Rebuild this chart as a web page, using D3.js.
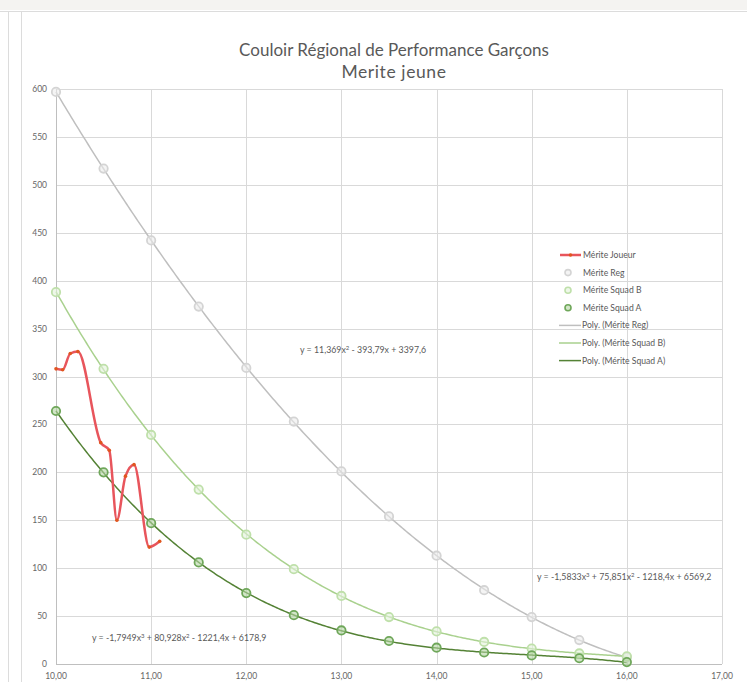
<!DOCTYPE html>
<html><head><meta charset="utf-8">
<script src="https://cdn.jsdelivr.net/npm/d3@7"></script>
<style>
html,body{margin:0;padding:0;background:#fff;}
svg{display:block;font-family:Lato,"Open Sans",sans-serif;}
</style></head>
<body><svg id="c" width="747" height="682"></svg>
<script>
// ---- data ----
const titleLines = ["Couloir Régional de Performance Garçons", "Merite jeune"];
const ageX = [10, 10.5, 11, 11.5, 12, 12.5, 13, 13.5, 14, 14.5, 15, 15.5, 16];
const meriteReg = [597, 517, 442, 373, 309, 253, 201, 154, 113, 77, 49, 25, 7];
const meriteSquadB = [388, 308, 239, 182, 135, 99, 71, 49, 34, 23, 16, 11, 8];
const meriteSquadA = [264, 200, 147, 106, 74, 51, 35, 24, 17, 12, 9, 6, 2];
const joueurX = [10.00, 10.07, 10.15, 10.23, 10.47, 10.56, 10.64, 10.73, 10.82, 10.98, 11.09];
const joueurY = [308, 307, 324, 326, 231, 223, 150, 196, 208, 122, 128];
const xTicks = [10, 11, 12, 13, 14, 15, 16, 17];
const yTicks = [0, 50, 100, 150, 200, 250, 300, 350, 400, 450, 500, 550, 600];
const legendLabels = ["Mérite Joueur", "Mérite Reg", "Mérite Squad B", "Mérite Squad A",
  "Poly. (Mérite Reg)", "Poly. (Mérite Squad B)", "Poly. (Mérite Squad A)"];
const eqReg = ["y = 11,369x", "2", " - 393,79x + 3397,6"];
const eqB = ["y = -1,5833x", "3", " + 75,851x", "2", " - 1218,4x + 6569,2"];
const eqA = ["y = -1,7949x", "3", " + 80,928x", "2", " - 1221,4x + 6178,9"];

// ---- polynomial least-squares fit (like Excel trendline) ----
function polyfit(xs, ys, deg) {
  const c = 13;
  const n = deg + 1;
  const A = Array.from({length: n}, () => new Array(n + 1).fill(0));
  xs.forEach((x0, k) => {
    const x = x0 - c;
    for (let i = 0; i < n; i++) {
      for (let j = 0; j < n; j++) A[i][j] += Math.pow(x, i + j);
      A[i][n] += ys[k] * Math.pow(x, i);
    }
  });
  for (let i = 0; i < n; i++) {
    let p = i;
    for (let r = i + 1; r < n; r++) if (Math.abs(A[r][i]) > Math.abs(A[p][i])) p = r;
    [A[i], A[p]] = [A[p], A[i]];
    for (let r = 0; r < n; r++) {
      if (r === i) continue;
      const f = A[r][i] / A[i][i];
      for (let j = i; j <= n; j++) A[r][j] -= f * A[i][j];
    }
  }
  const coef = A.map((row, i) => row[n] / row[i]);
  return x => coef.reduce((s, a, i) => s + a * Math.pow(x - c, i), 0);
}

const svg = d3.select("#c");
const W = 747, H = 682;

svg.append("rect").attr("x", 0).attr("y", 0).attr("width", W).attr("height", 10).attr("fill", "#f4f3f1");
svg.append("line").attr("x1", 0).attr("x2", W).attr("y1", 11.5).attr("y2", 11.5).attr("stroke", "#dcdcdc");
svg.append("line").attr("x1", 8.5).attr("x2", 8.5).attr("y1", 11).attr("y2", H).attr("stroke", "#dcdcdc");
svg.append("line").attr("x1", 21.5).attr("x2", 21.5).attr("y1", 11).attr("y2", H).attr("stroke", "#dcdcdc");

const x = d3.scaleLinear().domain([10, 17]).range([56, 722]);
const y = d3.scaleLinear().domain([0, 600]).range([664, 89]);

const g = svg.append("g");
g.selectAll(".hg").data(yTicks).join("line")
  .attr("x1", x(10)).attr("x2", x(17)).attr("y1", d => Math.round(y(d)) + 0.5).attr("y2", d => Math.round(y(d)) + 0.5)
  .attr("stroke", d => d === 0 ? "#bfbfbf" : "#d9d9d9").attr("stroke-width", 1);
g.selectAll(".vg").data(xTicks).join("line")
  .attr("y1", y(0)).attr("y2", y(600)).attr("x1", d => Math.round(x(d)) + 0.5).attr("x2", d => Math.round(x(d)) + 0.5)
  .attr("stroke", d => d === 10 ? "#bfbfbf" : "#d9d9d9").attr("stroke-width", 1);

const fmt = d => d.toFixed(2).replace(".", ",");
svg.append("g").selectAll("text").data(yTicks).join("text")
  .attr("x", 47).attr("y", d => y(d) + 3).attr("text-anchor", "end")
  .attr("font-size", 8.5).attr("fill", "#666").text(d => d);
svg.append("g").selectAll("text").data(xTicks).join("text")
  .attr("x", d => x(d)).attr("y", 679).attr("text-anchor", "middle")
  .attr("font-size", 8.5).attr("fill", "#666").text(fmt);

svg.append("text").attr("x", 394).attr("y", 56).attr("text-anchor", "middle")
  .attr("font-size", 17).attr("fill", "#595959").text(titleLines[0]);
svg.append("text").attr("x", 394).attr("y", 78).attr("text-anchor", "middle")
  .attr("font-size", 17.5).attr("letter-spacing", 0.6).attr("fill", "#595959").text(titleLines[1]);

const series = [
  {vals: meriteReg, deg: 2, line: "#bfbfbf", mStroke: "#d4d4d4", mFill: "#ececec"},
  {vals: meriteSquadB, deg: 3, line: "#a9d18e", mStroke: "#bfe0aa", mFill: "#e3f1da"},
  {vals: meriteSquadA, deg: 3, line: "#548235", mStroke: "#6fa75a", mFill: "#b4d6a4"}
];
const xs = d3.range(10, 16.0001, 0.02);
series.forEach(s => {
  const f = polyfit(ageX, s.vals, s.deg);
  svg.append("path").datum(xs)
    .attr("d", d3.line().x(d => x(d)).y(d => y(f(d))))
    .attr("fill", "none").attr("stroke", s.line).attr("stroke-width", 1.5);
});
series.forEach(s => {
  svg.append("g").selectAll("circle").data(ageX).join("circle")
    .attr("cx", d => x(d)).attr("cy", (d, i) => y(s.vals[i])).attr("r", 4.2)
    .attr("fill", s.mFill).attr("fill-opacity", 0.6)
    .attr("stroke", s.mStroke).attr("stroke-width", 1.8);
});

const jp = joueurX.map((d, i) => [d, joueurY[i]]);
svg.append("path").datum(jp)
  .attr("d", d3.line().x(d => x(d[0])).y(d => y(d[1])).curve(d3.curveMonotoneX))
  .attr("fill", "none").attr("stroke", "#e8555c").attr("stroke-width", 2.5);
svg.append("g").selectAll("circle").data(jp).join("circle")
  .attr("cx", d => x(d[0])).attr("cy", d => y(d[1])).attr("r", 1.8).attr("fill", "#e0561f");

function eq(parts, px, py) {
  const t = svg.append("text").attr("x", px).attr("y", py).attr("font-size", 8.8).attr("fill", "#595959");
  let prevSup = false;
  parts.forEach(p => {
    const sup = /^[23]$/.test(p);
    if (sup) t.append("tspan").attr("dy", -3.5).attr("font-size", 6).text(p);
    else t.append("tspan").attr("dy", prevSup ? 3.5 : 0).text(p);
    prevSup = sup;
  });
}
eq(eqReg, 300, 353);
eq(eqB, 537, 580);
eq(eqA, 92, 641);

const ly0 = 255, ldy = 17.6, lx = 560;
const leg = svg.append("g");
legendLabels.forEach((lab, i) => {
  const yy = ly0 + i * ldy;
  if (i === 0) {
    leg.append("line").attr("x1", lx).attr("x2", lx + 21).attr("y1", yy).attr("y2", yy).attr("stroke", "#e8555c").attr("stroke-width", 2.5);
    leg.append("circle").attr("cx", lx + 10.5).attr("cy", yy).attr("r", 1.8).attr("fill", "#e0561f");
  } else if (i <= 3) {
    const s = series[i - 1];
    leg.append("circle").attr("cx", lx + 8).attr("cy", yy).attr("r", 3)
      .attr("fill", s.mFill).attr("fill-opacity", 0.6).attr("stroke", s.mStroke).attr("stroke-width", 1.6);
  } else {
    const s = series[i - 4];
    leg.append("line").attr("x1", lx - 1).attr("x2", lx + 21).attr("y1", yy).attr("y2", yy).attr("stroke", s.line).attr("stroke-width", 1.5);
  }
  leg.append("text").attr("x", i >= 4 ? lx + 22 : lx + 23).attr("y", yy + 3).attr("font-size", 8.6).attr("fill", "#595959").text(lab);
});
</script></body></html>
